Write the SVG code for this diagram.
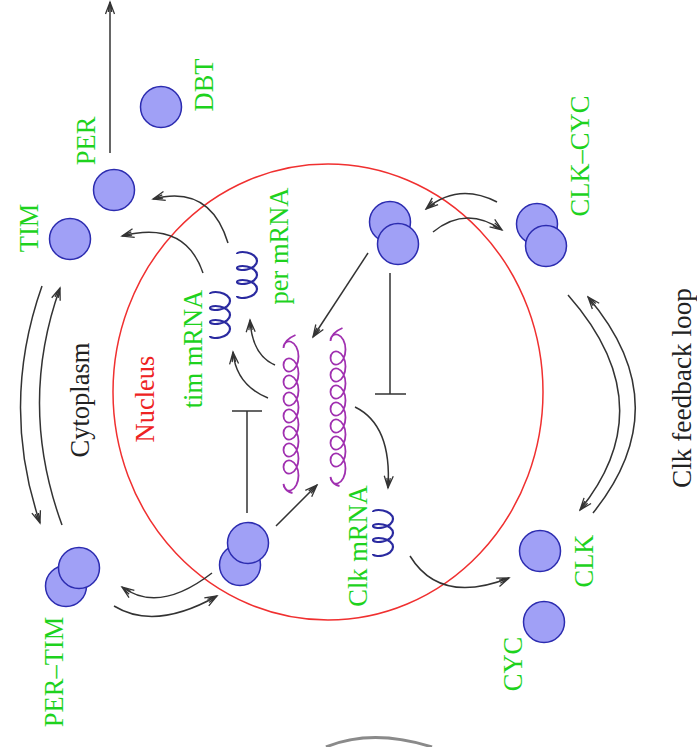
<svg xmlns="http://www.w3.org/2000/svg" xmlns:xlink="http://www.w3.org/1999/xlink" width="697" height="747" viewBox="0 0 697 747">
  <style>
    .mol { fill: #a0a0f6; stroke: #2c2cb0; stroke-width: 1.5; }
    .lbl { font-family: "Liberation Serif", "Times New Roman", serif; font-size: 26.5px; text-anchor: middle; }
    .green { fill: #1ed21e; }
    .black { fill: #222; }
    .red { fill: #ee2222; }
    .arr { fill: none; stroke: #333; stroke-width: 1.5; }
    .arrh { marker-end: url(#ah); }
    .inh { fill: none; stroke: #333; stroke-width: 1.5; }
    .dna { fill: none; stroke: #a030b0; stroke-width: 1.8; }
    .rna { fill: none; stroke: #2a2aa0; stroke-width: 2.2; }
  </style>
  <defs>
    <marker id="ah" markerUnits="userSpaceOnUse" markerWidth="16" markerHeight="12" viewBox="-14 -6 16 12" refX="0" refY="0" orient="auto">
      <path d="M-12,-4.5 L0,0 L-12,4.5 M-10,-1.7 L0,0 L-10,1.7" fill="none" stroke="#333" stroke-width="1.3"/>
    </marker>
    <!-- coiled DNA strand: eight round loops, 17px pitch -->
    <path id="helix" d="M-7.5,0
      c0,-4.31 3.36,-7.74 7.5,-6.25 c4.14,1.49 7.5,7.46 7.5,14.75 c0,7.29 -3.36,13.26 -7.5,14.75 c-4.14,1.49 -7.5,-1.94 -7.5,-6.25
      c0,-4.31 3.36,-7.74 7.5,-6.25 c4.14,1.49 7.5,7.46 7.5,14.75 c0,7.29 -3.36,13.26 -7.5,14.75 c-4.14,1.49 -7.5,-1.94 -7.5,-6.25
      c0,-4.31 3.36,-7.74 7.5,-6.25 c4.14,1.49 7.5,7.46 7.5,14.75 c0,7.29 -3.36,13.26 -7.5,14.75 c-4.14,1.49 -7.5,-1.94 -7.5,-6.25
      c0,-4.31 3.36,-7.74 7.5,-6.25 c4.14,1.49 7.5,7.46 7.5,14.75 c0,7.29 -3.36,13.26 -7.5,14.75 c-4.14,1.49 -7.5,-1.94 -7.5,-6.25
      c0,-4.31 3.36,-7.74 7.5,-6.25 c4.14,1.49 7.5,7.46 7.5,14.75 c0,7.29 -3.36,13.26 -7.5,14.75 c-4.14,1.49 -7.5,-1.94 -7.5,-6.25
      c0,-4.31 3.36,-7.74 7.5,-6.25 c4.14,1.49 7.5,7.46 7.5,14.75 c0,7.29 -3.36,13.26 -7.5,14.75 c-4.14,1.49 -7.5,-1.94 -7.5,-6.25
      c0,-4.31 3.36,-7.74 7.5,-6.25 c4.14,1.49 7.5,7.46 7.5,14.75 c0,7.29 -3.36,13.26 -7.5,14.75 c-4.14,1.49 -7.5,-1.94 -7.5,-6.25
      c0,-4.31 3.36,-7.74 7.5,-6.25 c4.14,1.49 7.5,7.46 7.5,14.75 c0,7.29 -3.36,13.26 -7.5,14.75 c-4.14,1.49 -7.5,-1.94 -7.5,-6.25
      c1,5 4,8 9,9
      M-7.5,0 c0,-5 5,-10 12,-13"/>
    <!-- short mRNA coil: three flattened turns -->
    <path id="squiggle" d="M-10,0
      c0,-1.52 4.5,-2.73 10,-1.5 c5.5,1.23 10,4.52 10,8.5 c0,3.98 -4.5,7.27 -10,8.5 c-5.5,1.23 -10,0.02 -10,-1.5
      c0,-1.52 4.5,-2.73 10,-1.5 c5.5,1.23 10,4.52 10,8.5 c0,3.98 -4.5,7.27 -10,8.5 c-5.5,1.23 -10,0.02 -10,-1.5
      c0,-1.52 4.5,-2.73 10,-1.5 c5.5,1.23 10,4.52 10,8.5 c0,3.98 -4.5,7.27 -10,8.5 c-5.5,1.23 -10,0.02 -10,-1.5"/>
  </defs>

  <rect x="0" y="0" width="697" height="747" fill="#ffffff"/>

  <!-- nucleus boundary -->
  <g id="nucleus">
    <ellipse cx="328" cy="392" rx="215" ry="228" fill="none" stroke="#f03030" stroke-width="1.5"/>
    <text class="lbl red" transform="translate(154,399) rotate(-90)">Nucleus</text>
  </g>

  <g id="cytoplasm-label">
    <text class="lbl black" transform="translate(89,400) rotate(-90)">Cytoplasm</text>
  </g>

  <g id="loop-label">
    <text class="lbl black" transform="translate(691,388) rotate(-90)" textLength="200" lengthAdjust="spacingAndGlyphs">Clk feedback loop</text>
  </g>

  <!-- connectors -->
  <g id="connectors">
    <!-- PER degradation -->
    <path class="arr arrh" d="M110,153 L110,2"/>
    <!-- mRNA export / translation -->
    <path class="arr arrh" d="M228,243 Q210,184 153,199"/>
    <path class="arr arrh" d="M203,273 Q185,220 122,236"/>
    <!-- TIM / PER-TIM association -->
    <path class="arr arrh" d="M42,286 Q0,405 40,523"/>
    <path class="arr arrh" d="M62,525 Q18,405 60,288"/>
    <!-- PER-TIM nuclear import / export -->
    <path class="arr arrh" d="M212,573 Q159,614 122,587"/>
    <path class="arr arrh" d="M114,606 Q155,631 217,596"/>
    <!-- CLK-CYC nuclear exchange -->
    <path class="arr arrh" d="M497,202 Q458,182 426,209"/>
    <path class="arr arrh" d="M433,232 Q466,205 502,230"/>
    <!-- CLK / CLK-CYC association -->
    <path class="arr arrh" d="M568,295 Q665,405 580,510"/>
    <path class="arr arrh" d="M593,513 Q680,405 588,297"/>
    <!-- transcription -->
    <path class="arr arrh" d="M275,365 Q252,355 250,320"/>
    <path class="arr arrh" d="M268,398 Q236,385 233,352"/>
    <path class="arr arrh" d="M355,407 Q392,425 388,488"/>
    <path class="arr arrh" d="M410,556 Q440,605 509,578"/>
    <!-- binding to DNA -->
    <path class="arr arrh" d="M276,526 L317,485"/>
    <path class="arr arrh" d="M368,253 L313,337"/>
    <!-- repression -->
    <path class="inh" d="M247,513 L247,411 M232,411 L262,411"/>
    <path class="inh" d="M390,273 L390,394 M375,394 L406,394"/>
    <!-- edge of a curve below -->
    <path d="M326,747 Q372,728 432,747" fill="none" stroke="#8a8a8a" stroke-width="3"/>
  </g>

  <!-- genes -->
  <g id="dna-per-tim">
    <use xlink:href="#helix" class="dna" transform="translate(291,348)"/>
  </g>
  <g id="dna-clk">
    <use xlink:href="#helix" class="dna" transform="translate(338,341)"/>
  </g>

  <!-- transcripts -->
  <g id="per-mrna">
    <use xlink:href="#squiggle" class="rna" transform="translate(247,254)"/>
    <text class="lbl green" transform="translate(288,246) rotate(-90)">per mRNA</text>
  </g>
  <g id="tim-mrna">
    <use xlink:href="#squiggle" class="rna" transform="translate(220,294)"/>
    <text class="lbl green" transform="translate(202,349) rotate(-90)">tim mRNA</text>
  </g>
  <g id="clk-mrna">
    <use xlink:href="#squiggle" class="rna" transform="translate(383,512)"/>
    <text class="lbl green" transform="translate(367,546) rotate(-90)">Clk mRNA</text>
  </g>

  <!-- proteins -->
  <g id="dbt">
    <circle class="mol" cx="161" cy="107" r="20.5"/>
    <text class="lbl green" transform="translate(213,85) rotate(-90)">DBT</text>
  </g>
  <g id="per">
    <circle class="mol" cx="114" cy="190" r="20.5"/>
    <text class="lbl green" transform="translate(95,141) rotate(-90)">PER</text>
  </g>
  <g id="tim">
    <circle class="mol" cx="70" cy="239" r="20.5"/>
    <text class="lbl green" transform="translate(38,228) rotate(-90)">TIM</text>
  </g>
  <g id="per-tim-cyto">
    <circle class="mol" cx="66" cy="586" r="20.5"/>
    <circle class="mol" cx="79" cy="568" r="20.5"/>
    <text class="lbl green" transform="translate(63,672) rotate(-90)">PER–TIM</text>
  </g>
  <g id="per-tim-nuc">
    <circle class="mol" cx="240" cy="565" r="20.5"/>
    <circle class="mol" cx="248" cy="543" r="20.5"/>
  </g>
  <g id="clk-cyc-nuc">
    <circle class="mol" cx="390" cy="222" r="20.5"/>
    <circle class="mol" cx="398" cy="244" r="20.5"/>
  </g>
  <g id="clk-cyc-cyto">
    <circle class="mol" cx="537" cy="224" r="20.5"/>
    <circle class="mol" cx="546" cy="246" r="20.5"/>
    <text class="lbl green" transform="translate(589,156) rotate(-90)">CLK–CYC</text>
  </g>
  <g id="clk">
    <circle class="mol" cx="540" cy="551" r="20.5"/>
    <text class="lbl green" transform="translate(593,561) rotate(-90)">CLK</text>
  </g>
  <g id="cyc">
    <circle class="mol" cx="544" cy="622" r="20.5"/>
    <text class="lbl green" transform="translate(522,664) rotate(-90)">CYC</text>
  </g>
</svg>
